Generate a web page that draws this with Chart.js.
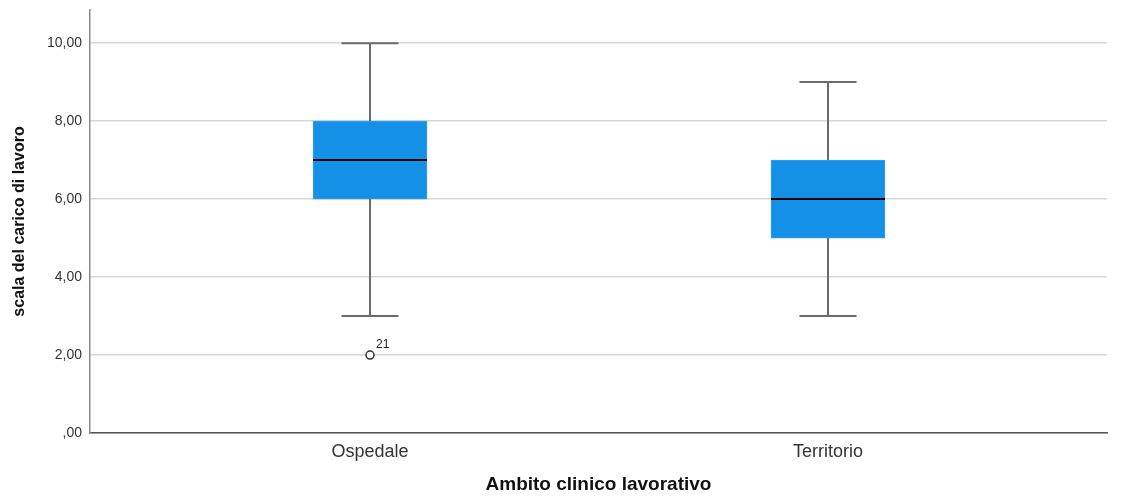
<!DOCTYPE html>
<html>
<head>
<meta charset="utf-8">
<script src="https://cdn.jsdelivr.net/npm/chart.js@4.4.1/dist/chart.umd.min.js"></script>
<style>
  html, body { margin: 0; padding: 0; background: #fff; }
  #wrap { width: 1124px; height: 497px; }
</style>
</head>
<body>
<div id="wrap"><canvas id="c" width="1124" height="497"></canvas></div>
<script>
// Workload score by clinical setting
const categories = ['Ospedale', 'Territorio'];
const whiskerLow = [3, 3];
const q1 = [6, 5];
const median = [7, 6];
const q3 = [8, 7];
const whiskerHigh = [10, 9];
const outlierValues = [[2], []];
const outlierIds = [['21'], []];
const yTicks = [0, 2, 4, 6, 8, 10];

const positions = categories.map((_, i) => i + 1);

const boxData = positions.map((x, i) => ({ x: x, y: [q1[i], q3[i]] }));
const outlierData = [];
const outlierLabels = [];
outlierValues.forEach((vals, i) => {
  vals.forEach((v, k) => {
    outlierData.push({ x: positions[i], y: v });
    outlierLabels.push(outlierIds[i][k]);
  });
});

const fmt = v => {
  const s = v.toFixed(2).replace('.', ',');
  return s.startsWith('0,') ? s.slice(1) : s;
};

const BOX_PX = 114;
const SANS = '"Liberation Sans", Arial, sans-serif';

const boxPlotExtras = {
  id: 'boxPlotExtras',
  beforeDatasetsDraw(chart) {
    const { ctx, scales: { x, y } } = chart;
    ctx.save();
    ctx.strokeStyle = '#6b6b6b';
    ctx.lineWidth = 2;
    positions.forEach((p, i) => {
      const px = Math.round(x.getPixelForValue(p));
      const cap = BOX_PX / 4;
      const yLo = y.getPixelForValue(whiskerLow[i]);
      const yQ1 = y.getPixelForValue(q1[i]);
      const yQ3 = y.getPixelForValue(q3[i]);
      const yHi = y.getPixelForValue(whiskerHigh[i]);
      ctx.beginPath();
      ctx.moveTo(px, yHi); ctx.lineTo(px, yQ3);
      ctx.moveTo(px, yQ1); ctx.lineTo(px, yLo);
      ctx.moveTo(px - cap, yHi); ctx.lineTo(px + cap, yHi);
      ctx.moveTo(px - cap, yLo); ctx.lineTo(px + cap, yLo);
      ctx.stroke();
    });
    ctx.restore();
  },
  afterDatasetsDraw(chart) {
    const { ctx, scales: { x, y } } = chart;
    ctx.save();
    ctx.strokeStyle = '#000';
    ctx.lineWidth = 2;
    positions.forEach((p, i) => {
      const px = x.getPixelForValue(p);
      const ym = y.getPixelForValue(median[i]);
      ctx.beginPath();
      ctx.moveTo(px - BOX_PX / 2, ym);
      ctx.lineTo(px + BOX_PX / 2, ym);
      ctx.stroke();
    });
    // outlier case labels
    ctx.fillStyle = '#222';
    ctx.font = '12px ' + SANS;
    ctx.textBaseline = 'alphabetic';
    ctx.textAlign = 'left';
    outlierData.forEach((d, k) => {
      const px = x.getPixelForValue(d.x);
      const py = y.getPixelForValue(d.y);
      ctx.fillText(outlierLabels[k], px + 6, py - 7);
    });
    ctx.restore();
  }
};

new Chart(document.getElementById('c'), {
  type: 'bar',
  data: {
    datasets: [
      {
        type: 'bar',
        data: boxData,
        backgroundColor: '#1490e6',
        borderColor: '#3a9fea',
        borderWidth: 1,
        borderSkipped: false,
        barThickness: BOX_PX,
        grouped: false
      },
      {
        type: 'scatter',
        data: outlierData,
        pointStyle: 'circle',
        pointRadius: 4,
        pointBorderWidth: 1.5,
        pointBorderColor: '#333',
        pointBackgroundColor: '#fff'
      }
    ]
  },
  options: {
    responsive: false,
    animation: false,
    layout: { padding: { left: 0, right: 17, top: 10, bottom: 0 } },
    plugins: { legend: { display: false }, tooltip: { enabled: false } },
    scales: {
      x: {
        type: 'linear',
        offset: false,
        min: 0.3886,
        max: 2.6092,
        afterBuildTicks: s => { s.ticks = positions.map(v => ({ value: v })); },
        afterFit: s => { s.height = 64; s.paddingLeft = 0; s.paddingRight = 0; },
        grid: { display: false, drawTicks: false },
        border: { display: true, color: '#555', width: 1.5 },
        ticks: {
          callback: v => categories[v - 1] || '',
          padding: 8,
          color: '#333',
          maxRotation: 0,
          font: { family: SANS, size: 18 }
        },
        title: {
          display: true,
          text: 'Ambito clinico lavorativo',
          color: '#111',
          padding: { top: 0, bottom: 1 },
          font: { family: SANS, size: 19, weight: 'bold' }
        }
      },
      y: {
        type: 'linear',
        min: 0,
        max: 10.85,
        afterBuildTicks: s => { s.ticks = yTicks.map(v => ({ value: v })); },
        afterFit: s => { s.width = 90; s.paddingTop = 0; s.paddingBottom = 0; },
        grid: { color: '#d6d6d6', lineWidth: 1.5, drawTicks: false },
        border: { display: true, color: '#8a8a8a', width: 1.5 },
        ticks: {
          callback: v => fmt(v),
          padding: 8,
          color: '#333',
          font: { family: SANS, size: 14 }
        },
        title: {
          display: true,
          text: 'scala del carico di lavoro',
          color: '#111',
          padding: { top: 10, bottom: 0 },
          font: { family: SANS, size: 16, weight: 'bold' }
        }
      }
    }
  },
  plugins: [boxPlotExtras]
});
</script>
</body>
</html>
